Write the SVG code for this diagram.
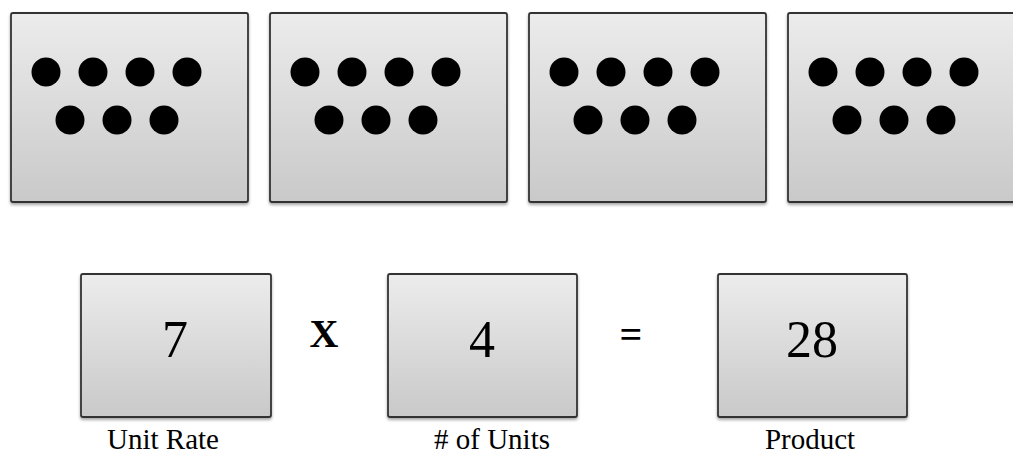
<svg xmlns="http://www.w3.org/2000/svg" width="1013" height="456" viewBox="0 0 1013 456">
  <defs>
    <linearGradient id="g" x1="0" y1="0" x2="0" y2="1">
      <stop offset="0" stop-color="#ececec"/>
      <stop offset="1" stop-color="#c9c9c9"/>
    </linearGradient>
    <filter id="sh" x="-5%" y="-5%" width="110%" height="115%">
      <feDropShadow dx="0" dy="2" stdDeviation="1.5" flood-color="#000" flood-opacity="0.35"/>
    </filter>
    <g id="dots">
      <circle cx="35" cy="59" r="14.5"/>
      <circle cx="82" cy="59" r="14.5"/>
      <circle cx="129" cy="59" r="14.5"/>
      <circle cx="176" cy="59" r="14.5"/>
      <circle cx="59" cy="107" r="14.5"/>
      <circle cx="106" cy="107" r="14.5"/>
      <circle cx="153" cy="107" r="14.5"/>
    </g>
  </defs>
  <style>
    .box { fill: url(#g); stroke: #333333; stroke-width: 1.8; filter: url(#sh); }
    .dot { fill: #000; }
    .num { font-family: "Liberation Serif", "Times New Roman", serif; font-size: 52px; fill: #000; text-anchor: middle; }
    .op { font-family: "Liberation Serif", "Times New Roman", serif; font-size: 40px; font-weight: bold; fill: #000; text-anchor: middle; }
    .lbl { font-family: "Liberation Serif", "Times New Roman", serif; font-size: 29px; fill: #000; text-anchor: middle; }
  </style>
  <rect width="1013" height="456" fill="#ffffff"/>

  <g id="group1">
    <rect class="box" x="11" y="13" width="237" height="189" rx="2"/>
    <use href="#dots" x="11" y="13" class="dot"/>
  </g>
  <g id="group2">
    <rect class="box" x="270" y="13" width="237" height="189" rx="2"/>
    <use href="#dots" x="270" y="13" class="dot"/>
  </g>
  <g id="group3">
    <rect class="box" x="529" y="13" width="237" height="189" rx="2"/>
    <use href="#dots" x="529" y="13" class="dot"/>
  </g>
  <g id="group4">
    <rect class="box" x="788" y="13" width="237" height="189" rx="2"/>
    <use href="#dots" x="788" y="13" class="dot"/>
  </g>

  <g id="unit-rate">
    <rect class="box" x="81" y="274" width="190" height="143" rx="2"/>
    <text class="num" x="175" y="357">7</text>
    <text class="lbl" x="163" y="449">Unit Rate</text>
  </g>
  <g id="times-sign">
    <text class="op" x="324" y="347">X</text>
  </g>
  <g id="num-units">
    <rect class="box" x="388" y="274" width="189" height="143" rx="2"/>
    <text class="num" x="482" y="357">4</text>
    <text class="lbl" x="492" y="449"># of Units</text>
  </g>
  <g id="equals-sign">
    <text class="op" x="631" y="348">=</text>
  </g>
  <g id="product">
    <rect class="box" x="718" y="274" width="189" height="143" rx="2"/>
    <text class="num" x="812" y="357">28</text>
    <text class="lbl" x="810" y="449">Product</text>
  </g>
  <g id="connectors"/>
</svg>
